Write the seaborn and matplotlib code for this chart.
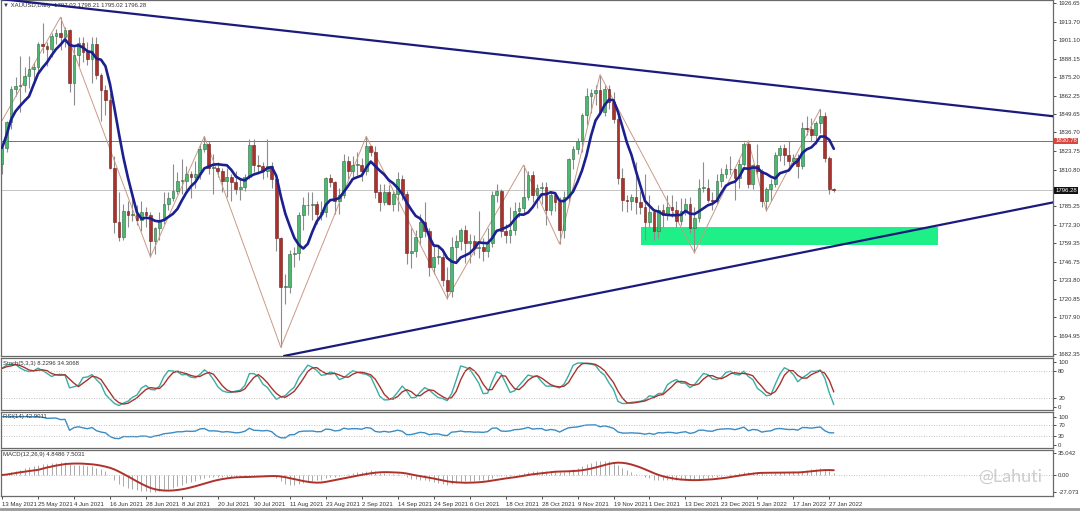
import numpy as np
import pandas as pd
import matplotlib.pyplot as plt
import matplotlib.transforms as mtransforms
import seaborn as sns

# --- 数据 (XAUUSD 日线, 2021-05-13 ~ 2022-01-28) ---
opens = [
    1815, 1826, 1844, 1867, 1869, 1870, 1876, 1881, 1882, 1898,
    1897, 1895, 1904, 1906, 1903, 1908, 1871, 1891, 1899, 1893,
    1888, 1898, 1877, 1866, 1859, 1812, 1774, 1764, 1782, 1779,
    1780, 1776, 1781, 1779, 1761, 1770, 1776, 1787, 1791, 1796,
    1803, 1803, 1808, 1806, 1808, 1825, 1829, 1812, 1812, 1810,
    1803, 1806, 1802, 1797, 1799, 1806, 1828, 1814, 1813, 1810,
    1813, 1804, 1763, 1729, 1729, 1752, 1753, 1779, 1786, 1786,
    1787, 1780, 1781, 1805, 1802, 1789, 1793, 1817, 1810, 1814,
    1814, 1810, 1827, 1823, 1795, 1788, 1795, 1787, 1794, 1804,
    1794, 1753, 1754, 1764, 1774, 1768, 1743, 1750, 1750, 1734,
    1726, 1757, 1761, 1769, 1760, 1761, 1756, 1757, 1754, 1760,
    1793, 1796, 1768, 1765, 1769, 1782, 1784, 1792, 1807, 1793,
    1798, 1799, 1783, 1793, 1788, 1769, 1792, 1818, 1825, 1831,
    1849, 1862, 1864, 1866, 1851, 1867, 1858, 1846, 1805, 1790,
    1789, 1792, 1788, 1785, 1774, 1781, 1768, 1783, 1779, 1785,
    1783, 1775, 1782, 1787, 1770, 1777, 1798, 1798, 1790, 1789,
    1803, 1808, 1811, 1811, 1805, 1815, 1829, 1801, 1814, 1810,
    1789, 1797, 1801, 1821, 1826, 1821, 1817, 1819, 1813, 1840,
    1839, 1835, 1843, 1848, 1819, 1797.03,
]
highs = [
    1829, 1845, 1869, 1875, 1890, 1882, 1890, 1886, 1900, 1913,
    1900, 1906, 1909, 1917, 1910, 1909, 1896, 1903, 1903, 1900,
    1903, 1903, 1878, 1870, 1864, 1820, 1795, 1787, 1789, 1795,
    1786, 1789, 1785, 1781, 1771, 1781, 1795, 1795, 1815, 1809,
    1818, 1813, 1810, 1817, 1829, 1834, 1831, 1822, 1816, 1812,
    1812, 1808, 1810, 1804, 1808, 1832, 1832, 1821, 1816, 1832,
    1816, 1806, 1764, 1738, 1755, 1757, 1781, 1792, 1795, 1795,
    1789, 1789, 1806, 1808, 1803, 1798, 1822, 1820, 1820, 1823,
    1819, 1834, 1828, 1827, 1801, 1801, 1800, 1796, 1809, 1807,
    1796, 1770, 1769, 1780, 1788, 1770, 1758, 1757, 1753, 1743,
    1764, 1765, 1770, 1772, 1766, 1765, 1782, 1763, 1770, 1796,
    1801, 1797, 1773, 1785, 1788, 1788, 1814, 1810, 1810, 1801,
    1802, 1802, 1796, 1794, 1792, 1796, 1819, 1827, 1833, 1850,
    1868, 1867, 1870, 1877, 1870, 1870, 1865, 1848, 1812, 1793,
    1794, 1816, 1796, 1808, 1793, 1783, 1786, 1787, 1793, 1793,
    1789, 1791, 1791, 1792, 1785, 1804, 1816, 1804, 1795, 1808,
    1812, 1815, 1820, 1812, 1818, 1830, 1831, 1815, 1829, 1811,
    1799, 1804, 1823, 1828, 1829, 1831, 1822, 1822, 1844, 1848,
    1847, 1845, 1853, 1851, 1820, 1798.21,
]
lows = [
    1808, 1823, 1839, 1862, 1851, 1865, 1868, 1873, 1878, 1892,
    1883, 1889, 1898, 1894, 1896, 1865, 1856, 1883, 1886, 1884,
    1871, 1874, 1845, 1849, 1811, 1767, 1761, 1762, 1771, 1775,
    1772, 1768, 1771, 1750, 1752, 1762, 1773, 1783, 1789, 1794,
    1794, 1795, 1791, 1798, 1804, 1823, 1808, 1794, 1806, 1795,
    1792, 1789, 1794, 1790, 1796, 1804, 1809, 1809, 1804, 1806,
    1798, 1754, 1687, 1717, 1725, 1743, 1748, 1769, 1779, 1776,
    1773, 1776, 1778, 1799, 1780, 1780, 1791, 1804, 1805, 1807,
    1803, 1807, 1820, 1791, 1782, 1786, 1786, 1782, 1782, 1790,
    1745, 1742, 1750, 1759, 1764, 1737, 1738, 1745, 1730, 1721,
    1722, 1748, 1755, 1746, 1746, 1751, 1749, 1747, 1750, 1757,
    1788, 1764, 1760, 1760, 1765, 1778, 1780, 1790, 1788, 1784,
    1787, 1772, 1779, 1782, 1759, 1763, 1788, 1811, 1822, 1823,
    1842, 1850, 1856, 1850, 1848, 1853, 1843, 1801, 1782, 1781,
    1783, 1780, 1780, 1762, 1771, 1762, 1763, 1771, 1776, 1778,
    1771, 1772, 1779, 1767, 1753, 1774, 1795, 1788, 1783, 1787,
    1799, 1805, 1808, 1790, 1798, 1813, 1798, 1797, 1808, 1785,
    1782, 1789, 1799, 1817, 1814, 1812, 1814, 1805, 1811, 1835,
    1830, 1829, 1836, 1816, 1794, 1795.02,
]
closes = [
    1826, 1844, 1867, 1869, 1870, 1876, 1881, 1882, 1898, 1897,
    1895, 1904, 1906, 1903, 1908, 1871, 1891, 1899, 1893, 1888,
    1898, 1877, 1866, 1859, 1812, 1774, 1764, 1782, 1779, 1780,
    1776, 1781, 1779, 1761, 1770, 1776, 1787, 1791, 1796, 1803,
    1803, 1808, 1806, 1808, 1825, 1829, 1812, 1812, 1810, 1803,
    1806, 1802, 1797, 1799, 1806, 1828, 1814, 1813, 1810, 1813,
    1804, 1763, 1729, 1729, 1752, 1753, 1779, 1786, 1786, 1787,
    1780, 1781, 1805, 1802, 1789, 1793, 1817, 1810, 1814, 1814,
    1810, 1827, 1823, 1795, 1788, 1795, 1787, 1794, 1804, 1794,
    1753, 1754, 1764, 1774, 1768, 1743, 1750, 1750, 1734, 1726,
    1757, 1761, 1769, 1760, 1761, 1756, 1757, 1754, 1760, 1793,
    1796, 1768, 1765, 1769, 1782, 1784, 1792, 1807, 1793, 1798,
    1799, 1783, 1793, 1788, 1769, 1792, 1818, 1825, 1831, 1849,
    1862, 1864, 1866, 1851, 1867, 1858, 1846, 1805, 1790, 1789,
    1792, 1788, 1785, 1774, 1781, 1768, 1783, 1779, 1785, 1783,
    1775, 1782, 1787, 1770, 1777, 1798, 1798, 1790, 1789, 1803,
    1808, 1811, 1811, 1805, 1815, 1829, 1801, 1814, 1810, 1789,
    1797, 1801, 1821, 1826, 1821, 1817, 1819, 1813, 1840, 1839,
    1835, 1843, 1848, 1819, 1797, 1796.28,
]

# 日期刻度 (每 8 根 K 线一个)
date_labels = [
    "13 May 2021", "25 May 2021", "4 Jun 2021", "16 Jun 2021", "28 Jun 2021",
    "8 Jul 2021", "20 Jul 2021", "30 Jul 2021", "11 Aug 2021", "23 Aug 2021",
    "2 Sep 2021", "14 Sep 2021", "24 Sep 2021", "6 Oct 2021", "18 Oct 2021",
    "28 Oct 2021", "9 Nov 2021", "19 Nov 2021", "1 Dec 2021", "13 Dec 2021",
    "23 Dec 2021", "5 Jan 2022", "17 Jan 2022", "27 Jan 2022",
]
price_ticks = [1926.65, 1913.70, 1901.10, 1888.15, 1875.20, 1862.25, 1849.65,
               1836.70, 1823.75, 1810.80, 1785.25, 1772.30, 1759.35, 1746.75,
               1733.80, 1720.85, 1707.90, 1694.95, 1682.35]

# ZigZag 拐点 (K 线序号, 价格)
zz_bar = [0, 13, 33, 45, 62, 81, 99, 116, 124, 133, 154, 166, 170, 182]
zz_price = [1845, 1917, 1750, 1834, 1687, 1834, 1721, 1814, 1759, 1877, 1753, 1831, 1782, 1853]

# 趋势线 / 区域 / 水平线
upper_line_bar = [-3, 233.8]
upper_line_price = [1930.6, 1848.0]
lower_line_bar = [62.7, 233.8]
lower_line_price = [1681.0, 1788.0]
zone_bar = [142.2, 208.2]
zone_price = [1758.2, 1770.7]
resist_level = 1830.78
bid_level = 1796.28

df = pd.DataFrame({"bar": np.arange(len(closes)), "open": opens, "high": highs,
                   "low": lows, "close": closes})

# --- 指标 ---
df["ma"] = df["close"].rolling(7, min_periods=1).mean()
ll = df["low"].rolling(5, min_periods=1).min()
hh = df["high"].rolling(5, min_periods=1).max()
df["k"] = 100 * (df["close"] - ll).rolling(3, min_periods=1).sum() / (hh - ll).rolling(3, min_periods=1).sum()
df["d"] = df["k"].rolling(3, min_periods=1).mean()
delta = df["close"].diff().fillna(0)
gain = delta.clip(lower=0).ewm(alpha=1 / 14, adjust=False).mean()
loss = (-delta.clip(upper=0)).ewm(alpha=1 / 14, adjust=False).mean()
df["rsi"] = (100 - 100 / (1 + gain / loss.replace(0, np.nan))).fillna(100)
df["macd"] = df["close"].ewm(span=12, adjust=False).mean() - df["close"].ewm(span=26, adjust=False).mean()
df["signal"] = df["macd"].rolling(9, min_periods=1).mean()

# --- 画布 ---
sns.set_style("white")
plt.rcParams["font.family"] = ["Liberation Sans", "DejaVu Sans"]
FS = 4.3

fig = plt.figure(figsize=(10.8, 5.11), dpi=100, facecolor="white")
W = 0.9741
ax = fig.add_axes([0.001, 0.3033, W, 0.6960])
ax_st = fig.add_axes([0.001, 0.1977, W, 0.1018], sharex=ax)
ax_rsi = fig.add_axes([0.001, 0.1233, W, 0.0705], sharex=ax)
ax_md = fig.add_axes([0.001, 0.0294, W, 0.0900], sharex=ax)

# --- 主图: K 线 ---
up = df["close"] >= df["open"]
body = (df["close"] - df["open"]).abs().clip(lower=0.4)
bottom = df[["open", "close"]].min(axis=1)
ax.vlines(df["bar"], df["low"], df["high"], color="#8c8c8c", lw=0.8, zorder=2)
ax.bar(df["bar"][up], body[up], bottom=bottom[up], width=0.62,
       color="#4cb870", edgecolor="#2e6b45", linewidth=0.4, zorder=3)
ax.bar(df["bar"][~up], body[~up], bottom=bottom[~up], width=0.62,
       color="#a8322c", edgecolor="#6e1f1b", linewidth=0.4, zorder=3)

ax.fill_between(zone_bar, zone_price[0], zone_price[1], color="#1ef087", lw=0, zorder=1)
ax.axhline(resist_level, color="#b5574a", lw=0.7, zorder=1)
ax.axhline(bid_level, color="#c4c4c4", lw=0.7, zorder=1)

sns.lineplot(x=zz_bar, y=zz_price, ax=ax, color="#c99a86", lw=0.7, estimator=None, zorder=2)
sns.lineplot(data=df, x="bar", y="ma", ax=ax, color="#1c1f8f", lw=1.9, zorder=4)
ax.plot(upper_line_bar, upper_line_price, color="#1b1b7e", lw=1.6, zorder=5)
ax.plot(lower_line_bar, lower_line_price, color="#1b1b7e", lw=1.6, zorder=5)

ax.set_xlim(-0.222, 233.78)
ax.set_ylim(1680.96, 1928.74)
ax.set_yticks(price_ticks)
ax.set_yticklabels([f"{v:.2f}" for v in price_ticks])

ax.text(0.002, 0.992, "\u25bc XAUUSD,Daily  1797.03 1798.21 1795.02 1796.28",
        transform=ax.transAxes, fontsize=FS, va="top", color="#333333")

blend = mtransforms.blended_transform_factory(ax.transAxes, ax.transData)
ax.text(1.002, resist_level, f"{resist_level:.2f}", transform=blend, fontsize=FS,
        color="white", va="center", ha="left",
        bbox=dict(boxstyle="square,pad=0.15", fc="#d8463f", ec="none"))
ax.text(1.002, bid_level, f"{bid_level:.2f}", transform=blend, fontsize=FS,
        color="white", va="center", ha="left",
        bbox=dict(boxstyle="square,pad=0.15", fc="#111111", ec="none"))

# --- Stochastic ---
sns.lineplot(data=df, x="bar", y="k", ax=ax_st, color="#3aada4", lw=1.0)
sns.lineplot(data=df, x="bar", y="d", ax=ax_st, color="#a8342d", lw=1.0)
for lv in (80, 20):
    ax_st.axhline(lv, color="#b0b0b0", lw=0.6, ls=(0, (1, 2)))
ax_st.set_ylim(-6.7, 108.9)
ax_st.set_yticks([100, 80, 20, 0])
ax_st.set_yticklabels(["100", "80", "20", "0"])
ax_st.text(0.002, 0.95, "Stoch(5,3,3) 8.2296 34.3068", transform=ax_st.transAxes,
           fontsize=FS, va="top", color="#333333")

# --- RSI ---
sns.lineplot(data=df, x="bar", y="rsi", ax=ax_rsi, color="#3a8cc4", lw=1.0)
for lv in (70, 30):
    ax_rsi.axhline(lv, color="#b0b0b0", lw=0.6, ls=(0, (1, 2)))
ax_rsi.set_ylim(-10.7, 116.8)
ax_rsi.set_yticks([100, 70, 30, 0])
ax_rsi.set_yticklabels(["100", "70", "30", "0"])
ax_rsi.text(0.002, 0.93, "RSI(14) 42.9011", transform=ax_rsi.transAxes,
            fontsize=FS, va="top", color="#333333")

# --- MACD ---
ax_md.vlines(df["bar"], 0, df["macd"], color="#a9a9a9", lw=0.7, zorder=2)
sns.lineplot(data=df, x="bar", y="signal", ax=ax_md, color="#b0312a", lw=1.4, zorder=3)
ax_md.axhline(0, color="#b0b0b0", lw=0.6, ls=(0, (1, 2)))
ax_md.set_ylim(-33.4, 39.8)
ax_md.set_yticks([35.042, 0, -27.073])
ax_md.set_yticklabels(["35.042", "0.00", "-27.073"])
ax_md.text(0.002, 0.95, "MACD(12,26,9) 4.8486 7.5031", transform=ax_md.transAxes,
           fontsize=FS, va="top", color="#333333")

ax_md.set_xticks(np.arange(len(date_labels)) * 8)
ax_md.set_xticklabels(date_labels)
for lbl in ax_md.get_xticklabels():
    lbl.set_ha("left")

# --- 坐标轴样式 ---
for a in (ax, ax_st, ax_rsi, ax_md):
    a.set_xlabel("")
    a.set_ylabel("")
    a.yaxis.tick_right()
    a.tick_params(axis="y", labelsize=FS, length=2.5, width=0.6, pad=1.2,
                  colors="#333333")
    a.tick_params(axis="x", bottom=False, labelbottom=False)
    for s in a.spines.values():
        s.set_color("#6a6a6a")
        s.set_linewidth(0.9)
    if a.get_legend():
        a.get_legend().remove()

ax_md.tick_params(axis="x", bottom=True, labelbottom=True, labelsize=FS,
                  length=2.5, width=0.6, pad=1.5, colors="#333333")

# 水印
fig.text(0.935, 0.066, "@Lahuti", fontsize=13, color="#c8c8c8", ha="center",
         va="center", family="Lato", alpha=0.9)

fig.add_artist(plt.Line2D([0, 1], [0.004, 0.004], color="#9a9a9a", lw=2))

plt.savefig("out.png", dpi=100, facecolor="white")
plt.close()
